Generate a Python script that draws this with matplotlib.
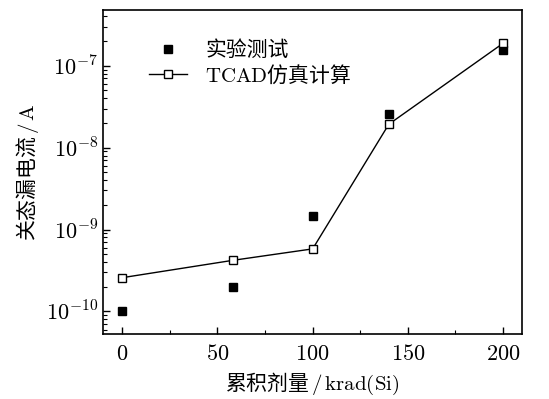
import matplotlib.pyplot as plt
import matplotlib.ticker as mticker
import numpy as np

plt.rcParams['font.family'] = ['Noto Sans CJK SC', 'DejaVu Sans']
plt.rcParams['mathtext.fontset'] = 'cm'

# dose in krad(Si)
dose_exp = [0, 58, 100, 140, 200]
leak_exp = [1.0e-10, 2.0e-10, 1.47e-9, 2.58e-8, 1.55e-7]   # measured

dose_sim = [0, 58, 100, 140, 200]
leak_sim = [2.58e-10, 4.2e-10, 5.8e-10, 1.93e-8, 1.88e-7]  # TCAD

x_ticks = [0, 50, 100, 150, 200]
y_decades = [-10, -9, -8, -7]

fig = plt.figure(figsize=(5.49, 3.99), dpi=100)
ax = fig.add_axes([0.188, 0.163, 0.763, 0.812])

ax.plot(dose_exp, leak_exp, 's', color='black', markersize=6,
        linestyle='none', label='实验测试')
ax.plot(dose_sim, leak_sim, '-s', color='black', markerfacecolor='white',
        markeredgewidth=1.0, markersize=6, linewidth=1.0,
        label=r'$\mathrm{TCAD}$仿真计算')

ax.set_yscale('log')
ax.set_xlim(-10, 210)
ax.set_ylim(5.3e-11, 4.8e-7)

ax.set_xticks(x_ticks)
ax.xaxis.set_minor_locator(mticker.FixedLocator([25, 75, 125, 175]))
ax.xaxis.set_major_formatter(mticker.FuncFormatter(lambda v, p: r'$%d$' % v))

# only ticks inside the visible range
ymin, ymax = ax.get_ylim()
minor = [m * 10.0 ** d for d in range(-11, -6) for m in range(2, 10)]
minor = [v for v in minor if ymin <= v <= ymax]
ax.yaxis.set_major_locator(mticker.FixedLocator([10.0 ** d for d in y_decades]))
ax.yaxis.set_minor_locator(mticker.FixedLocator(minor))
ax.yaxis.set_major_formatter(
    mticker.FuncFormatter(lambda v, p: r'$10^{%d}$' % int(round(np.log10(v)))))
ax.yaxis.set_minor_formatter(mticker.NullFormatter())

ax.tick_params(axis='both', which='both', direction='in', top=False, right=False)
ax.tick_params(axis='both', which='major', length=5, width=1, labelsize=16)
ax.tick_params(axis='both', which='minor', length=3, width=0.8)
ax.tick_params(axis='x', pad=6)
for s in ax.spines.values():
    s.set_linewidth(1.2)

ax.set_xlabel(r'累积剂量$\,/\,\mathrm{krad(Si)}$', fontsize=15, labelpad=4)
ax.set_ylabel(r'关态漏电流$\,/\,\mathrm{A}$', fontsize=15, labelpad=4)

ax.legend(loc='upper left', bbox_to_anchor=(0.065, 0.968), frameon=False,
          fontsize=15, handlelength=1.8, handletextpad=0.9, labelspacing=0.1)

plt.savefig('out.png', dpi=100)
